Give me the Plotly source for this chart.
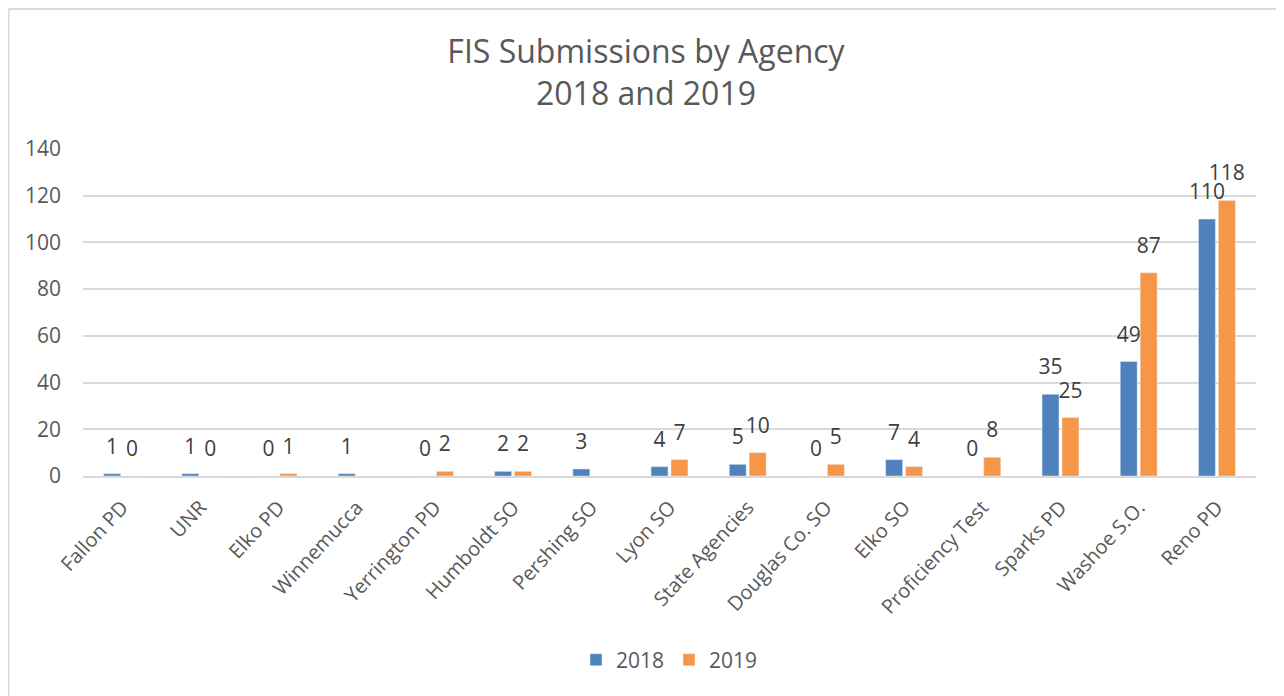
import plotly.graph_objects as go

agencies = ["Fallon PD", "UNR", "Elko PD", "Winnemucca", "Yerrington PD", "Humboldt SO",
            "Pershing SO", "Lyon SO", "State Agencies", "Douglas Co. SO", "Elko SO",
            "Proficiency Test", "Sparks PD", "Washoe S.O.", "Reno PD"]
y2018 = [1, 1, 0, 1, 0, 2, 3, 4, 5, 0, 7, 0, 35, 49, 110]
y2019 = [0, 0, 1, None, 2, 2, None, 7, 10, 5, 4, 8, 25, 87, 118]
y_ticks = [0, 20, 40, 60, 80, 100, 120, 140]

FONT = "Open Sans, sans-serif"
LABEL_COLOR = "#404040"
AXIS_COLOR = "#595959"
COLORS = {"2018": "#4F81BD", "2019": "#F79646"}

W, H = 1276, 688
L, R, T, B = 75, 28, 141, 220
PW, PH = W - L - R, H - T - B


def px_x(x):
    return (x - L) / PW


def px_y(y):
    return (H - B - y) / PH


fig = go.Figure()
for name, vals in (("2018", y2018), ("2019", y2019)):
    fig.add_trace(go.Bar(
        name=name, x=agencies, y=vals, marker_color=COLORS[name],
        offsetgroup=name, hoverinfo="x+y",
    ))
for name, vals in (("2018", y2018), ("2019", y2019)):
    fig.add_trace(go.Scatter(
        x=agencies, y=vals, mode="markers+text", text=vals,
        textposition="top center", offsetgroup=name, showlegend=False,
        marker=dict(size=22, opacity=0), hoverinfo="skip", cliponaxis=False,
        textfont=dict(size=21, color=LABEL_COLOR, family=FONT),
    ))

fig.update_layout(
    width=W, height=H,
    paper_bgcolor="white", plot_bgcolor="white",
    margin=dict(l=L, r=R, t=T, b=B),
    barmode="group", bargap=0.49, bargroupgap=0.15,
    scattermode="group", scattergap=0.49,
    font=dict(family=FONT, color=AXIS_COLOR),
    title=dict(text="FIS Submissions by Agency<br>2018 and 2019",
               x=0.5, xanchor="center", y=1 - 55 / H, yanchor="top",
               font=dict(size=32, color=AXIS_COLOR, family=FONT)),
    legend=dict(orientation="h", x=0.5, xanchor="center", y=-0.563, yanchor="middle",
                font=dict(size=21, color=AXIS_COLOR, family=FONT), itemwidth=30),
    xaxis=dict(tickangle=-47, tickfont=dict(size=20, color=AXIS_COLOR, family=FONT),
               showline=True, linecolor="#d9d9d9", linewidth=1.5, ticks="",
               showgrid=False, ticklabelstandoff=10),
    yaxis=dict(range=[0, 140], tickvals=y_ticks, showgrid=True, gridcolor="#d9d9d9",
               gridwidth=1.5, zeroline=False, ticks="",
               tickfont=dict(size=21, color=AXIS_COLOR, family=FONT), ticklabelstandoff=21),
    shapes=[
        dict(type="line", xref="paper", yref="paper", x0=px_x(0.5), x1=px_x(W),
             y0=px_y(1), y1=px_y(1), line=dict(color="#d9d9d9", width=2)),
        dict(type="line", xref="paper", yref="paper", x0=px_x(0.5), x1=px_x(0.5),
             y0=px_y(H), y1=px_y(1), line=dict(color="#d9d9d9", width=2)),
    ],
)

fig.write_html("out.html")
